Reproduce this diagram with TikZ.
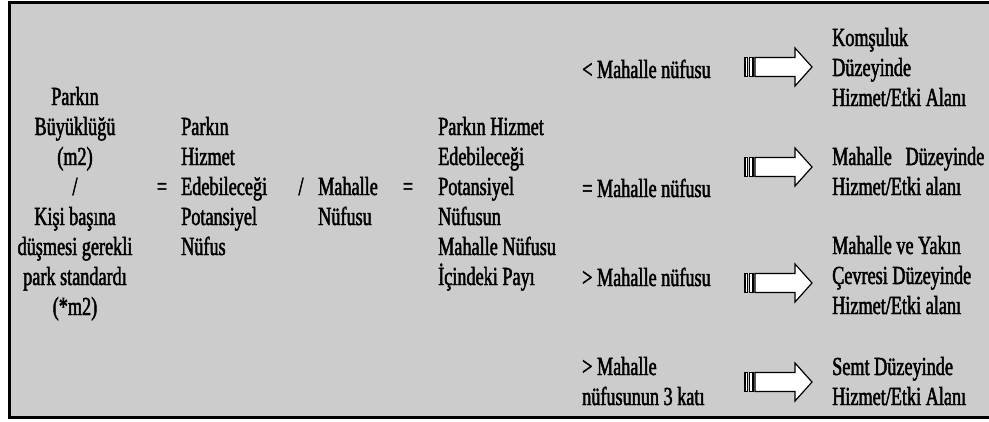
\documentclass[tikz,border=0pt]{standalone}
\usepackage{fontspec}
\newfontfamily\diafont{Liberation Serif}[FakeStretch=0.70,FakeBold=1.8]
\definecolor{panelgray}{RGB}{204,204,204}

\begin{document}
\begin{tikzpicture}[x=1bp,y=-1bp,
		every node/.style={font=\diafont\fontsize{26bp}{30bp}\selectfont, inner sep=0pt},
		txt/.style={anchor=base west, align=left},
		mid/.style={anchor=base, align=center}]
		% Draw panel.
		\useasboundingbox (0,0) rectangle (989,421);
		\fill[panelgray] (9,2) rectangle (989,417);
		\draw[line width=3bp] (989,2) -- (9,2) -- (9,417) -- (989,417);
		
		% Formula (nodes sit on the baseline of their last line).
		\node[mid] (size) at (75,315) {Parkın\\Büyüklüğü\\(m2)\\/\\Kişi başına\\düşmesi gerekli\\park standardı\\(*m2)};
		\node[mid] (eqa) at (162,195) {=};
		\node[txt] (potpop) at (181,255) {Parkın\\Hizmet\\Edebileceği\\Potansiyel\\Nüfus};
		\node[mid] (divb) at (301,195) {/};
		\node[txt] (mahpop) at (318,225) {Mahalle\\Nüfusu};
		\node[mid] (eqc) at (408,195) {=};
		\node[txt] (share) at (438,285) {Parkın Hizmet\\Edebileceği\\Potansiyel\\Nüfusun\\Mahalle Nüfusu\\İçindeki Payı};
		
		% Cases.
		\node[txt] (cmpa) at (582,78) {< Mahalle nüfusu};
		\node[txt] (cmpb) at (582,197) {= Mahalle nüfusu};
		\node[txt] (cmpc) at (582,286) {> Mahalle nüfusu};
		\node[txt] (cmpd) at (582,405) {> Mahalle\\nüfusunun 3 katı};
		
		% Service levels.
		\node[txt] (lvla) at (832,106) {Komşuluk\\Düzeyinde\\Hizmet/Etki Alanı};
		\node[txt] (lvlb) at (832,195) {Mahalle\ \ \ Düzeyinde\\Hizmet/Etki alanı};
		\node[txt] (lvlc) at (832,314) {Mahalle ve Yakın\\Çevresi Düzeyinde\\Hizmet/Etki alanı};
		\node[txt] (lvld) at (832,405) {Semt Düzeyinde\\Hizmet/Etki Alanı};
		
		% Striped arrows.
		\foreach \yc in {67,167,283,382}
		{
			\draw[fill=white, line width=1.2bp] (745,\yc-9.5) rectangle (747.5,\yc+9.5);
			\draw[fill=white, line width=1.2bp] (749.5,\yc-9.5) rectangle (753,\yc+9.5);
			\draw[fill=white, line width=1.2bp] (755,\yc-9.5) -- (795,\yc-9.5) -- (795,\yc-19)
				-- (812,\yc) -- (795,\yc+19) -- (795,\yc+9.5) -- (755,\yc+9.5) -- cycle;
		}
	\end{tikzpicture}
\end{document}
